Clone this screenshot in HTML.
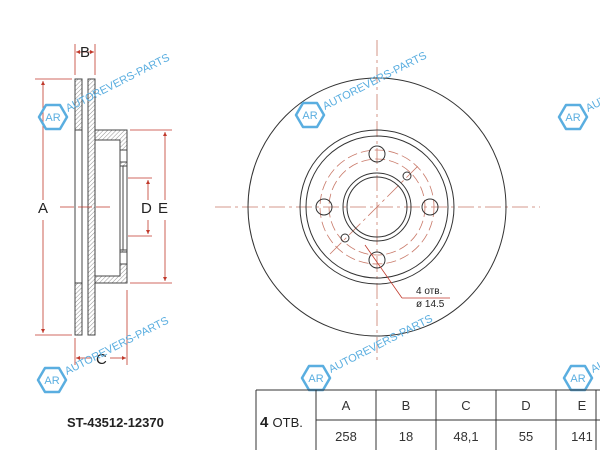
<!DOCTYPE html>
<html><head><meta charset="utf-8"><style>
html,body{margin:0;padding:0;background:#fff;}
svg{display:block;font-family:"Liberation Sans",sans-serif;}
</style></head><body>
<svg width="600" height="450" viewBox="0 0 600 450" xmlns="http://www.w3.org/2000/svg">
<defs>
<pattern id="h" width="3" height="3" patternUnits="userSpaceOnUse" patternTransform="rotate(45)">
<line x1="0" y1="0" x2="0" y2="3" stroke="#777" stroke-width="0.8"/></pattern>
<marker id="a" viewBox="0 0 6 6" refX="6" refY="3" markerWidth="5" markerHeight="5" orient="auto-start-reverse"><path d="M0,0L6,3L0,6z" fill="#c0392b"/></marker>
<g id="logo"><polygon points="-7,-12 7,-12 14,0 7,12 -7,12 -14,0" fill="none" stroke="#5aaee0" stroke-width="2.5" stroke-linejoin="round"/><text x="0" y="4" font-size="11" fill="#5aaee0" text-anchor="middle">AR</text></g>
</defs>
<rect width="600" height="450" fill="#fff"/>

<!-- side view -->
<g stroke="#444" stroke-width="1">
<rect x="75" y="79" width="7" height="51" fill="url(#h)"/>
<rect x="75" y="283" width="7" height="52" fill="url(#h)"/>
<line x1="75" y1="130" x2="75" y2="283"/><line x1="82" y1="130" x2="82" y2="283"/>
<rect x="88" y="79" width="7" height="256" fill="url(#h)"/>
<path d="M95,130 L127,130 L127,283 L95,283 L95,276 L120,276 L120,140 L95,140 Z" fill="url(#h)"/>
<rect x="120" y="166" width="7" height="84" fill="#fff"/>
<line x1="123" y1="166" x2="123" y2="250"/><line x1="127" y1="166" x2="127" y2="250"/>
<rect x="120" y="150" width="7" height="12" fill="#fff"/>
<rect x="120" y="252" width="7" height="12" fill="#fff"/>
</g>
<g stroke="#c0392b" stroke-width="0.8" fill="none">
<line x1="75" y1="44" x2="75" y2="75"/><line x1="95" y1="44" x2="95" y2="75"/>
<line x1="76" y1="52" x2="94" y2="52" marker-start="url(#a)" marker-end="url(#a)"/>
<line x1="35" y1="79" x2="72" y2="79"/><line x1="35" y1="335" x2="72" y2="335"/>
<line x1="43" y1="81" x2="43" y2="200" marker-start="url(#a)"/>
<line x1="43" y1="220" x2="43" y2="333" marker-end="url(#a)"/>
<line x1="130" y1="130" x2="172" y2="130"/><line x1="130" y1="283" x2="172" y2="283"/>
<line x1="165" y1="132" x2="165" y2="200" marker-start="url(#a)"/>
<line x1="165" y1="220" x2="165" y2="281" marker-end="url(#a)"/>
<line x1="128" y1="178" x2="152" y2="178"/><line x1="128" y1="236" x2="152" y2="236"/>
<line x1="148" y1="180" x2="148" y2="200" marker-start="url(#a)"/>
<line x1="148" y1="220" x2="148" y2="234" marker-end="url(#a)"/>
<line x1="75" y1="338" x2="75" y2="365"/><line x1="127" y1="290" x2="127" y2="365"/>
<line x1="76" y1="358" x2="92" y2="358" marker-start="url(#a)"/>
<line x1="110" y1="358" x2="126" y2="358" marker-end="url(#a)"/>
<line x1="60" y1="207" x2="110" y2="207" stroke-dasharray="14,4"/>
</g>
<g font-size="15" fill="#222">
<text x="80" y="57">B</text><text x="38" y="213">A</text>
<text x="141" y="213">D</text><text x="158" y="213">E</text>
<text x="96" y="364">C</text>
</g>

<!-- front view -->
<g stroke="#c97a6a" stroke-width="0.8" fill="none" stroke-dasharray="16,4,3,4">
<line x1="215" y1="207" x2="540" y2="207"/>
<line x1="377" y1="40" x2="377" y2="360"/>
<line x1="330" y1="254" x2="420" y2="164"/>
<circle cx="377" cy="207" r="57" stroke-dasharray="10,4"/>
<circle cx="377" cy="207" r="48" stroke-dasharray="10,4"/>
</g>
<g stroke="#333" stroke-width="1" fill="none">
<circle cx="377" cy="207" r="129"/>
<circle cx="377" cy="207" r="77"/>
<circle cx="377" cy="207" r="71"/>
<circle cx="377" cy="207" r="34"/>
<circle cx="377" cy="207" r="30"/>
<circle cx="377" cy="154" r="8"/><circle cx="377" cy="260" r="8"/>
<circle cx="324" cy="207" r="8"/><circle cx="430" cy="207" r="8"/>
<circle cx="407" cy="176" r="4"/><circle cx="345" cy="238" r="4"/>
</g>
<g stroke="#c0392b" stroke-width="0.8" fill="none">
<line x1="365" y1="245" x2="402" y2="298"/><line x1="402" y1="298" x2="450" y2="298"/>
</g>
<text x="416" y="294" font-size="10" fill="#222">4 отв.</text>
<text x="416" y="307" font-size="10" fill="#222">ø 14.5</text>

<!-- watermarks -->
<g fill="#5aaee0" font-size="11">
<use href="#logo" x="53" y="117"/>
<text transform="translate(68,112) rotate(-27)">AUTOREVERS-PARTS</text>
<use href="#logo" x="310" y="115"/>
<text transform="translate(325,110) rotate(-27)">AUTOREVERS-PARTS</text>
<use href="#logo" x="573" y="117"/>
<text transform="translate(588,112) rotate(-27)">AUTOREVERS-PARTS</text>
<use href="#logo" x="52" y="380"/>
<text transform="translate(67,375) rotate(-27)">AUTOREVERS-PARTS</text>
<use href="#logo" x="316" y="378"/>
<text transform="translate(331,373) rotate(-27)">AUTOREVERS-PARTS</text>
<use href="#logo" x="578" y="378"/>
<text transform="translate(593,373) rotate(-27)">AUTOREVERS-PARTS</text>
</g>

<text x="67" y="427" font-size="13" font-weight="bold" fill="#222">ST-43512-12370</text>

<!-- table -->
<g stroke="#333" stroke-width="1" fill="none">
<line x1="256" y1="390" x2="600" y2="390"/>
<line x1="316" y1="420" x2="600" y2="420"/>
<line x1="256" y1="390" x2="256" y2="450"/>
<line x1="316" y1="390" x2="316" y2="450"/>
<line x1="376" y1="390" x2="376" y2="450"/>
<line x1="436" y1="390" x2="436" y2="450"/>
<line x1="496" y1="390" x2="496" y2="450"/>
<line x1="556" y1="390" x2="556" y2="450"/>
<line x1="596" y1="390" x2="596" y2="450"/>
</g>
<text x="260" y="427" font-size="15" font-weight="bold" fill="#222">4 <tspan font-size="13" font-weight="normal">ОТВ.</tspan></text>
<g font-size="13" fill="#333" text-anchor="middle">
<text x="346" y="410">A</text><text x="406" y="410">B</text><text x="466" y="410">C</text><text x="526" y="410">D</text><text x="582" y="410">E</text>
<text x="346" y="441">258</text><text x="406" y="441">18</text><text x="466" y="441">48,1</text><text x="526" y="441">55</text><text x="582" y="441">141</text>
</g>
</svg>
</body></html>
